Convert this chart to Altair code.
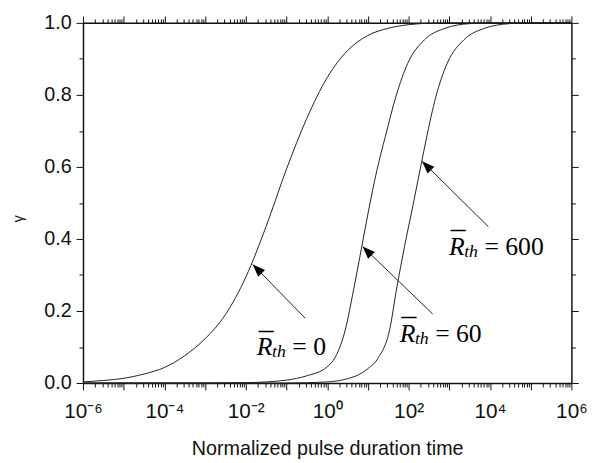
import altair as alt
import pandas as pd

# ---------------- data ----------------
series_names = ["R0", "R60", "R600"]

# curve R_th = 0 : log10(t), gamma
c0_exp = [-6.0, -5.5, -5.0, -4.5, -4.0, -3.5, -3.0, -2.5, -2.0, -1.5, -1.0, -0.5, 0.0, 0.5, 1.0, 1.5, 2.0, 2.5, 3.0, 6.0]
c0_gam = [0.003, 0.007, 0.013, 0.025, 0.043, 0.076, 0.123, 0.19, 0.294, 0.435, 0.594, 0.735, 0.848, 0.923, 0.965, 0.985, 0.995, 0.999, 1.0, 1.0]

# curve R_th = 60
c60_exp = [-6.0, -3.0, -2.0, -1.5, -1.0, -0.5, 0.0, 0.2, 0.45, 0.65, 0.85, 1.01, 1.22, 1.43, 1.70, 1.98, 2.39, 2.87, 3.52, 4.2, 6.0]
c60_gam = [0.0, 0.0, 0.001, 0.003, 0.008, 0.02, 0.045, 0.072, 0.15, 0.26, 0.379, 0.475, 0.59, 0.685, 0.8, 0.888, 0.953, 0.984, 0.998, 1.0, 1.0]

# curve R_th = 600
c600_exp = [-6.0, -1.0, 0.0, 0.5, 0.77, 1.0, 1.256, 1.54, 1.70, 1.90, 2.105, 2.31, 2.43, 2.67, 2.95, 3.36, 3.84, 4.49, 5.0, 6.0]
c600_gam = [0.0, 0.0, 0.003, 0.012, 0.023, 0.04, 0.07, 0.151, 0.258, 0.379, 0.492, 0.608, 0.675, 0.795, 0.888, 0.953, 0.984, 0.998, 1.0, 1.0]

# annotation arrows (tail -> tip), log10(t) and gamma
arrow_tail_exp = [-0.54, 2.59, 3.96]
arrow_tail_gam = [0.18, 0.192, 0.434]
arrow_tip_exp = [-1.83, 0.87, 2.33]
arrow_tip_gam = [0.329, 0.379, 0.616]

# annotation labels
label_exp = [-1.73, 1.78, 2.99]
label_gam = [0.0767, 0.114, 0.356]
label_values = ["0", "60", "600"]

# axis ticks
x_major_exp = list(range(-6, 7))
x_minor_mult = [2, 3, 4, 5, 6, 7, 8, 9]
y_major = [0.0, 0.2, 0.4, 0.6, 0.8, 1.0]
y_minor = [0.1, 0.3, 0.5, 0.7, 0.9]

# ---------------- tables ----------------
rows = []
for name, exps, gams in [("R0", c0_exp, c0_gam), ("R60", c60_exp, c60_gam), ("R600", c600_exp, c600_gam)]:
    for e, g in zip(exps, gams):
        rows.append({"series": name, "t": 10.0 ** e, "gamma": g})
curves = pd.DataFrame(rows)

arrows = pd.DataFrame({
    "t1": [10.0 ** e for e in arrow_tail_exp],
    "g1": arrow_tail_gam,
    "t2": [10.0 ** e for e in arrow_tip_exp],
    "g2": arrow_tip_gam,
})

labels = pd.DataFrame({
    "t": [10.0 ** e for e in label_exp],
    "gamma": label_gam,
    "eq": ["= " + v for v in label_values],
})

x_major = [10.0 ** e for e in x_major_exp]
x_minor = [m * 10.0 ** e for e in x_major_exp[:-1] for m in x_minor_mult]

# ---------------- styling ----------------
SANS = "Liberation Sans"
SERIF = "Liberation Serif"
INK = "#111111"

xscale = alt.Scale(type="log", domain=[1e-6, 1e6], nice=False)
yscale = alt.Scale(domain=[0, 1], nice=False, zero=False)

exp_expr = "round(log(datum.value)/LN10)"
sup_expr = ("replace(replace(replace(replace(replace(toString(" + exp_expr + "), '-', '\u207b'), '0', '\u2070'),"
            " '2', '\u00b2'), '4', '\u2074'), '6', '\u2076')")
x_label_expr = "(" + exp_expr + ") % 2 == 0 ? '10' + " + sup_expr + " : ''"

common = dict(grid=False, domainColor=INK, tickColor=INK, tickWidth=1, labelColor=INK)

ax_bottom = alt.Axis(orient="bottom", values=x_major, labelExpr=x_label_expr, tickSize=7,
                     labelPadding=28, labelBaseline="alphabetic", labelFont=SANS, labelFontSize=21,
                     labelOverlap=False, labelFlush=False, labelBound=False,
                     domainWidth=1.5, title="Normalized pulse duration time", titleFont=SANS,
                     titleFontSize=20, titleFontWeight="normal", titleColor=INK,
                     titleBaseline="alphabetic", titleY=72, **common)
ax_top = alt.Axis(orient="top", values=x_major, labels=False, tickSize=7, domainWidth=1.5, title=None, **common)
ax_bottom_minor = alt.Axis(orient="bottom", values=x_minor, labels=False, tickSize=4, domain=False, title=None, **common)
ax_top_minor = alt.Axis(orient="top", values=x_minor, labels=False, tickSize=4, domain=False, title=None, **common)

ax_left = alt.Axis(orient="left", values=y_major, format=".1f", tickSize=7, labelPadding=5,
                   labelFont=SANS, labelFontSize=20, labelOverlap=False, labelFlush=False, labelBound=False,
                   domainWidth=1.5, title="\u03b3", titleFont=SANS, titleFontSize=15,
                   titleFontWeight="normal", titleColor=INK, titleX=-58, titleY=198, **common)
ax_right = alt.Axis(orient="right", values=y_major, labels=False, tickSize=7, domainWidth=1.5, title=None, **common)
ax_left_minor = alt.Axis(orient="left", values=y_minor, labels=False, tickSize=4, domain=False, title=None, **common)
ax_right_minor = alt.Axis(orient="right", values=y_minor, labels=False, tickSize=4, domain=False, title=None, **common)


def enc(xa, ya):
    return dict(
        x=alt.X("t:Q", scale=xscale, axis=xa),
        y=alt.Y("gamma:Q", scale=yscale, axis=ya),
        detail="series:N",
    )


base = alt.Chart(curves)
lines = base.mark_line(color="#222222", strokeWidth=1, interpolate="monotone").encode(**enc(ax_bottom, ax_left))
axes2 = base.mark_line(strokeOpacity=0).encode(**enc(ax_top, ax_right))
axes3 = base.mark_line(strokeOpacity=0).encode(**enc(ax_bottom_minor, ax_left_minor))
axes4 = base.mark_line(strokeOpacity=0).encode(**enc(ax_top_minor, ax_right_minor))

arrow_lines = alt.Chart(arrows).mark_rule(color="#222222", strokeWidth=1).encode(
    x=alt.X("t1:Q", scale=xscale, axis=None), x2="t2:Q",
    y=alt.Y("g1:Q", scale=yscale, axis=None), y2="g2:Q",
)
arrow_heads = alt.Chart(arrows).mark_point(
    shape="M0,0L-0.38,1L0.38,1Z", filled=True, size=650, angle=315, color="black", opacity=1, strokeWidth=0
).encode(
    x=alt.X("t2:Q", scale=xscale, axis=None),
    y=alt.Y("g2:Q", scale=yscale, axis=None),
)

lab_enc = dict(x=alt.X("t:Q", scale=xscale, axis=None), y=alt.Y("gamma:Q", scale=yscale, axis=None))
lab_base = alt.Chart(labels)
txt_R = lab_base.mark_text(text="R", font=SERIF, fontStyle="italic", fontSize=26, align="left",
                           baseline="alphabetic", color="black").encode(**lab_enc)
txt_bar = lab_base.mark_text(text="_", font=SERIF, fontSize=30, align="left", baseline="alphabetic",
                             dx=2, dy=-27, color="black").encode(**lab_enc)
txt_th = lab_base.mark_text(text="th", font=SERIF, fontStyle="italic", fontSize=18, align="left",
                            baseline="alphabetic", dx=15.5, dy=2, color="black").encode(**lab_enc)
txt_eq = lab_base.mark_text(font=SERIF, fontSize=26, align="left", baseline="alphabetic",
                            dx=36, color="black").encode(text="eq:N", **lab_enc)

chart = alt.layer(
    lines, axes2, axes3, axes4, arrow_lines, arrow_heads, txt_R, txt_bar, txt_th, txt_eq
).resolve_axis(
    x="independent", y="independent"
).properties(
    width=495, height=365,
    padding={"left": 76, "top": 12, "right": 30, "bottom": 78},
    autosize=alt.AutoSizeParams(type="none"),
    background="white",
).configure_view(stroke=None)

chart.save("out.html", embed_options={"renderer": "svg", "actions": False})
